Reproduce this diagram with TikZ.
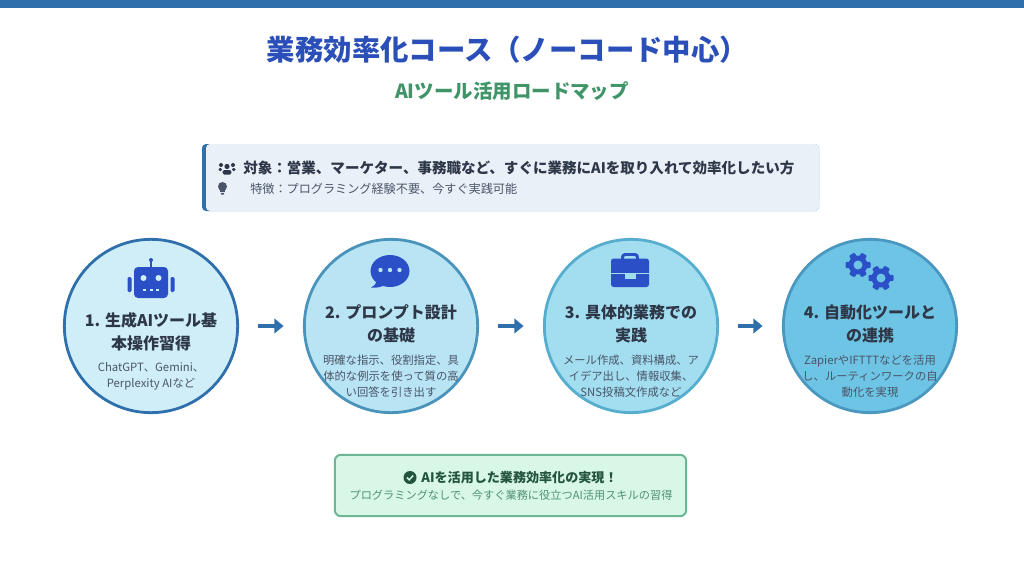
\documentclass[tikz,border=0pt]{standalone}
\usepackage{fontspec}
\setmainfont{Noto Sans CJK JP}
\usetikzlibrary{arrows.meta}
\definecolor{barblue}{HTML}{2F6FAB}
\definecolor{iconblue}{HTML}{2B4FC7}
\definecolor{titleblue}{HTML}{2B4FB8}
\definecolor{subgreen}{HTML}{3F9468}
\definecolor{infofill}{HTML}{EAF0F8}
\definecolor{inktext}{HTML}{2D3748}
\definecolor{softtext}{HTML}{4A5568}
\definecolor{stepfillA}{HTML}{D0EEF8}
\definecolor{stepfillB}{HTML}{B8E4F3}
\definecolor{stepfillC}{HTML}{A2DDF0}
\definecolor{stepfillD}{HTML}{6EC4E4}
\definecolor{stepdrawA}{HTML}{2F6FAB}
\definecolor{stepdrawB}{HTML}{4A94BC}
\definecolor{stepdrawC}{HTML}{56ADCE}
\definecolor{stepdrawD}{HTML}{4A97C0}
\definecolor{goalfill}{HTML}{D8F7E6}
\definecolor{goaldraw}{HTML}{6DB594}
\definecolor{goaldark}{HTML}{23543D}
\definecolor{goalsoft}{HTML}{4F9173}
\tikzset{
  stepcircle/.style={circle, line width=2.1pt, minimum size=130pt, inner sep=0pt},
  steptitle/.style={align=center, text=inktext, font=\fontsize{12}{17.25}\selectfont\bfseries},
  stepdesc/.style={align=center, text=softtext, font=\fontsize{8.5}{12}\selectfont},
  flowarrow/.style={draw=barblue, line width=3.4pt, -{Triangle[length=7pt,width=11pt]}, shorten >=14.5pt, shorten <=14pt},
  iconfill/.style={fill=iconblue, draw=none}
}
\newcommand{\iconRobot}[2]{%
  \begin{scope}[shift={(#1,#2)}]
    \fill[iconfill, rounded corners=3pt] (-17,-11) rectangle (17,20);
    \fill[iconfill] (-1.2,-18) rectangle (1.2,-10);
    \fill[iconfill] (0,-18) circle (2);
    \fill[iconfill, rounded corners=1pt] (-23.5,-1) rectangle (-19.5,14);
    \fill[iconfill, rounded corners=1pt] (19.5,-1) rectangle (23.5,14);
    \fill[stepfillA] (-7.5,0) circle (3);
    \fill[stepfillA] (7.5,0) circle (3);
    \foreach \dx in {-8,-1.5,5} \fill[stepfillA] (\dx,10.8) rectangle +(3,2);
  \end{scope}%
}
\newcommand{\iconComment}[2]{%
  \begin{scope}[shift={(#1,#2)}]
    \fill[iconfill] (0,0) ellipse (19.5 and 16);
    \fill[iconfill] (-13,8) .. controls (-13,12) and (-16,15) .. (-19,16.5) .. controls (-13,17.5) and (-7,15.5) .. (-3,13) -- cycle;
    \foreach \dx in {-9.5,0,9.5} \fill[stepfillB] (\dx,-1) circle (2.2);
  \end{scope}%
}
\newcommand{\iconCase}[2]{%
  \begin{scope}[shift={(#1,#2)}]
    \draw[iconblue, line width=2.2pt, rounded corners=2pt] (-7.5,-11) -- (-7.5,-15.5) -- (7.5,-15.5) -- (7.5,-11);
    \fill[iconfill, rounded corners=2pt] (-19,-11.5) rectangle (19,17);
    \fill[stepfillC] (-19,2.5) rectangle (19,4);
    \fill[stepfillC] (-5.5,2.5) rectangle (5.5,8.5);
  \end{scope}%
}
\newcommand{\iconGear}[3]{%
  \begin{scope}[shift={(#1,#2)}]
    \fill[iconfill] (0,0) circle (9.5);
    \foreach \ang in {0,60,...,300}
      \fill[iconfill, rotate=\ang+30, rounded corners=0.8pt] (-3.2,-12.5) rectangle (3.2,0);
    \fill[#3] (0,0) circle (4.5);
  \end{scope}%
}
\newcommand{\iconUsers}[2]{%
  \begin{scope}[shift={(#1,#2)}]
    \fill[inktext] (0,-2.5) circle (2.6);
    \fill[inktext] (-6,-4) circle (2);
    \fill[inktext] (6,-4) circle (2);
    \fill[inktext, rounded corners=1pt] (-4.3,5.5) rectangle (4.3,1);
    \fill[inktext, rounded corners=1pt] (-8.5,2) rectangle (-5,-1);
    \fill[inktext, rounded corners=1pt] (5,-1) rectangle (8.5,2);
  \end{scope}%
}
\newcommand{\iconBulb}[2]{%
  \begin{scope}[shift={(#1,#2)}]
    \fill[softtext] (0,-1.5) circle (4.5);
    \fill[softtext] (-2.2,1) rectangle (2.2,4.2);
    \fill[softtext, rounded corners=0.6pt] (-1.8,4.8) rectangle (1.8,6.6);
  \end{scope}%
}
\newcommand{\iconCheck}[2]{%
  \begin{scope}[shift={(#1,#2)}]
    \fill[goaldark] (0,0) circle (6.5);
    \draw[goalfill, line width=1.1pt] (-3,0) -- (-0.8,2.3) -- (3.2,-2);
  \end{scope}%
}

\begin{document}
\begin{tikzpicture}[x=0.75pt,y=-0.75pt]

  \useasboundingbox (0,0) rectangle (1024,571);

  % --- top bar & headings ---
  \fill[barblue] (0,0) rectangle (1024,8);
  \node[text=titleblue, font=\fontsize{21.3}{25}\selectfont\bfseries] (title) at (507.5,50) {業務効率化コース（ノーコード中心）};
  \node[text=subgreen, font=\fontsize{14.6}{17}\selectfont\bfseries] (subtitle) at (512,91) {AIツール活用ロードマップ};

  % --- audience box ---
  \node[fill=barblue, rounded corners=3pt, minimum width=462.75pt, minimum height=50.25pt, inner sep=0pt] (infobar) at (510.5,177.5) {};
  \node[fill=infofill, rounded corners=3pt, minimum width=459.75pt, minimum height=50.25pt, inner sep=0pt] (infobox) at (512.5,177.5) {};
  \iconUsers{227}{169}
  \iconBulb{222.5}{188}
  \node[anchor=west, inner sep=0pt, text=inktext, font=\fontsize{10.9}{13}\selectfont\bfseries] (infoA) at (243,168) {対象：営業、マーケター、事務職など、すぐに業務にAIを取り入れて効率化したい方};
  \node[anchor=west, inner sep=0pt, text=softtext, font=\fontsize{9.1}{12}\selectfont] (infoB) at (250,188.5) {特徴：プログラミング経験不要、今すぐ実践可能};

  % --- step circles ---
  \node[stepcircle, fill=stepfillA, draw=stepdrawA] (stepA) at (151,326) {};
  \node[stepcircle, fill=stepfillB, draw=stepdrawB] (stepB) at (391,326) {};
  \node[stepcircle, fill=stepfillC, draw=stepdrawC] (stepC) at (631,326) {};
  \node[stepcircle, fill=stepfillD, draw=stepdrawD] (stepD) at (870,326) {};

  \draw[flowarrow] (stepA) -- (stepB);
  \draw[flowarrow] (stepB) -- (stepC);
  \draw[flowarrow] (stepC) -- (stepD);

  % --- icons ---
  \iconRobot{151}{278}
  \iconComment{390}{271}
  \iconCase{630}{270}
  \iconGear{858}{265}{stepfillD}
  \iconGear{881}{278}{stepfillD}

  % --- step texts ---
  \node[steptitle] (titleA) at (151,331.5) {1. 生成AIツール基\\本操作習得};
  \node[stepdesc] (descA) at (151,376.5) {ChatGPT、Gemini、\\Perplexity AIなど};

  \node[steptitle] (titleB) at (391,324) {2. プロンプト設計\\の基礎};
  \node[stepdesc] (descB) at (391,376) {明確な指示、役割指定、具\\体的な例示を使って質の高\\い回答を引き出す};

  \node[steptitle] (titleC) at (631,324) {3. 具体的業務での\\実践};
  \node[stepdesc] (descC) at (631,376) {メール作成、資料構成、ア\\イデア出し、情報収集、\\SNS投稿文作成など};

  \node[steptitle] (titleD) at (870,324) {4. 自動化ツールと\\の連携};
  \node[stepdesc] (descD) at (870,376) {ZapierやIFTTTなどを活用\\し、ルーティンワークの自\\動化を実現};

  % --- goal box ---
  \node[fill=goalfill, draw=goaldraw, line width=1.5pt, rounded corners=4.5pt, minimum width=263.5pt, minimum height=46pt, inner sep=0pt] (goalbox) at (510.5,485.5) {};
  \iconCheck{410}{477.5}
  \node[text=goaldark, inner sep=0pt, font=\fontsize{9.8}{13}\selectfont\bfseries] (goalA) at (519.5,477.5) {AIを活用した業務効率化の実現！};
  \node[text=goalsoft, inner sep=0pt, font=\fontsize{8.4}{12}\selectfont] (goalB) at (511,495) {プログラミングなしで、今すぐ業務に役立つAI活用スキルの習得};

\end{tikzpicture}
\end{document}
